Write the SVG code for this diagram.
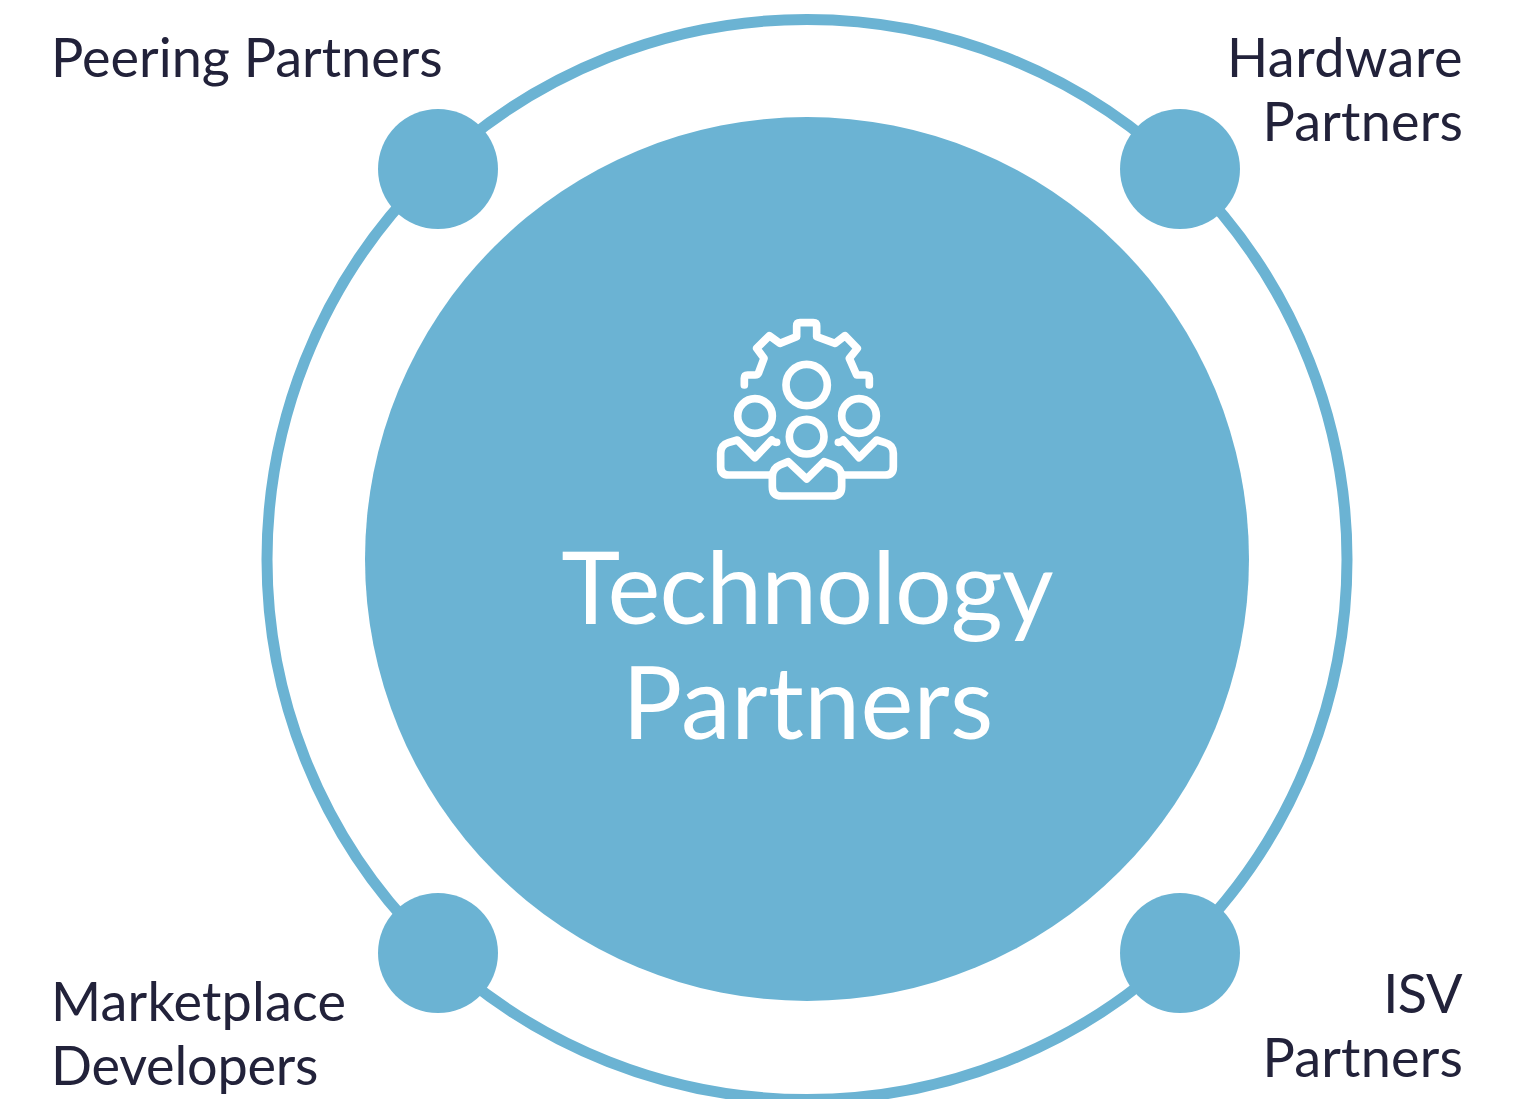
<svg xmlns="http://www.w3.org/2000/svg" width="1516" height="1099" viewBox="0 0 1516 1099">
<style>
.fill{fill:#6bb3d3}
.lbl{font-family:Lato,"Noto Sans",sans-serif;font-size:54px;fill:#22223a}
.ctr{font-family:Lato,"Noto Sans",sans-serif;font-weight:400;font-size:100px;fill:#fff;text-anchor:middle}
.ic{fill:none;stroke:#fff;stroke-width:23;stroke-linecap:round;stroke-linejoin:round}
.end{text-anchor:end}
</style>
<rect width="1516" height="1099" fill="#fff"/>
<g id="connectors"><circle cx="807" cy="559.5" r="540" fill="none" stroke="#6bb3d3" stroke-width="11"/></g>
<g id="center"><circle class="fill" cx="807" cy="559" r="442"/>
<g transform="translate(700 310) scale(.33333)" class="ic">
<path d="M133 225V205Q133 195 143 195H165Q173 195 176 188L192 145L170 115L208 77L240 100L290 80V48Q290 38 300 38H340Q350 38 350 48V80L405 100L435 77L472 115L448 145L470 195H498Q508 195 508 205V225"/>
<circle cx="320" cy="225" r="62"/><circle cx="165" cy="318" r="52"/><circle cx="477" cy="318" r="52"/><circle cx="320" cy="380" r="52"/>
<path d="M230 397Q222 397 215 390L165 443L112 390L85 398Q62 405 62 430V470Q62 495 87 495H215"/>
<path d="M415 397Q423 397 430 390L477 443L530 390L555 398Q580 405 580 430V470Q580 495 555 495H425"/>
<path d="M265 455L320 507L372 455L400 465Q425 475 425 500V530Q425 558 395 558H245Q217 558 217 530V500Q217 475 240 465Z"/>
</g>
<text class="ctr" x="807" y="624" letter-spacing="-.8">Technology</text><text class="ctr" x="808" y="739" letter-spacing=".4">Partners</text></g>
<g id="peering"><circle class="fill" cx="438" cy="169" r="60"/><text class="lbl" x="51" y="77">Peering Partners</text></g>
<g id="hardware"><circle class="fill" cx="1180" cy="169" r="60"/><text class="lbl end" x="1463" y="77" letter-spacing=".5">Hardware</text><text class="lbl end" x="1463" y="141" letter-spacing=".2">Partners</text></g>
<g id="marketplace"><circle class="fill" cx="438" cy="953" r="60"/><text class="lbl" x="51" y="1021" letter-spacing=".2">Marketplace</text><text class="lbl" x="51" y="1085" letter-spacing="-.2">Developers</text></g>
<g id="isv"><circle class="fill" cx="1180" cy="953" r="60"/><text class="lbl end" x="1462" y="1013" letter-spacing="-.5">ISV</text><text class="lbl end" x="1463" y="1077" letter-spacing=".2">Partners</text></g>
</svg>
